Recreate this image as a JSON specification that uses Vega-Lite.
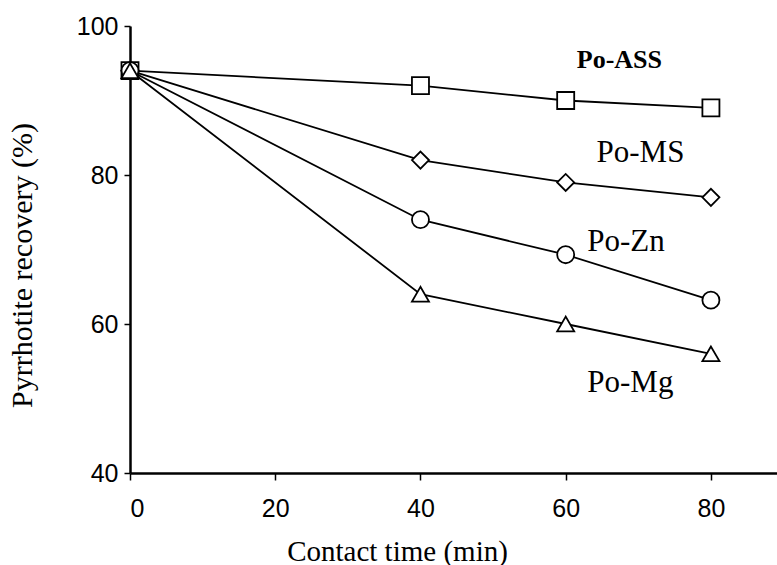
{
  "$schema": "https://vega.github.io/schema/vega-lite/v6.json",
  "width": 647,
  "height": 447,
  "autosize": "none",
  "padding": {"left": 130, "top": 26, "right": 0, "bottom": 92},
  "background": "white",
  "config": {"view": {"stroke": null}},
  "datasets": {
    "pts": [
      {"series": "Po-ASS", "time": 0, "recovery": 94},
      {"series": "Po-ASS", "time": 40, "recovery": 92},
      {"series": "Po-ASS", "time": 60, "recovery": 90},
      {"series": "Po-ASS", "time": 80, "recovery": 89},
      {"series": "Po-MS", "time": 0, "recovery": 94},
      {"series": "Po-MS", "time": 40, "recovery": 82},
      {"series": "Po-MS", "time": 60, "recovery": 79},
      {"series": "Po-MS", "time": 80, "recovery": 77},
      {"series": "Po-Zn", "time": 0, "recovery": 94},
      {"series": "Po-Zn", "time": 40, "recovery": 74},
      {"series": "Po-Zn", "time": 60, "recovery": 69.3},
      {"series": "Po-Zn", "time": 80, "recovery": 63.2},
      {"series": "Po-Mg", "time": 0, "recovery": 94},
      {"series": "Po-Mg", "time": 40, "recovery": 64},
      {"series": "Po-Mg", "time": 60, "recovery": 60},
      {"series": "Po-Mg", "time": 80, "recovery": 56}
    ],
    "labels": [
      {"label": "Po-ASS", "time": 67.4, "recovery": 95.4, "weight": "bold"},
      {"label": "Po-MS", "time": 70.3, "recovery": 82.9, "weight": "normal"},
      {"label": "Po-Zn", "time": 68.3, "recovery": 71.0, "weight": "normal"},
      {"label": "Po-Mg", "time": 68.9, "recovery": 52.1, "weight": "normal"}
    ]
  },
  "layer": [
    {
      "mark": {"type": "rule", "color": "black", "strokeWidth": 2},
      "encoding": {"y": {"datum": 100, "type": "quantitative", "scale": {"domain": [40, 100]}}}
    },
    {
      "data": {"name": "pts"},
      "mark": {"type": "line", "color": "black", "strokeWidth": 1.8},
      "encoding": {
        "x": {
          "field": "time", "type": "quantitative",
          "scale": {"domain": [0, 89.1], "nice": false, "zero": false},
          "axis": {
            "values": [0, 20, 40, 60, 80], "grid": false,
            "title": "Contact time (min)",
            "titleFont": "Liberation Serif", "titleFontSize": 29, "titleFontWeight": "normal", "titleColor": "black",
            "titleX": 267, "titleY": 78, "titleBaseline": "middle", "titleAnchor": null,
            "labelFont": "Liberation Sans", "labelFontSize": 25, "labelColor": "black",
            "tickSize": 7, "tickColor": "black", "tickWidth": 1.5, "labelPadding": 16,
            "domainColor": "black", "domainWidth": 2.5
          }
        },
        "y": {
          "field": "recovery", "type": "quantitative",
          "scale": {"domain": [40, 100], "nice": false, "zero": false},
          "axis": {
            "values": [40, 60, 80, 100], "grid": false,
            "title": "Pyrrhotite recovery (%)",
            "titleFont": "Liberation Serif", "titleFontSize": 30, "titleFontWeight": "normal", "titleColor": "black",
            "titleX": -108, "titleY": 239, "titleAngle": -90, "titleAlign": "center", "titleBaseline": "middle",
            "labelFont": "Liberation Sans", "labelFontSize": 25, "labelColor": "black",
            "tickSize": 6, "tickColor": "black", "tickWidth": 1.5, "labelPadding": 6,
            "domainColor": "black", "domainWidth": 2.5
          }
        },
        "detail": {"field": "series"}
      }
    },
    {
      "data": {"name": "pts"},
      "mark": {"type": "point", "filled": true, "fill": "white", "stroke": "black", "strokeWidth": 1.8, "opacity": 1, "size": 290},
      "encoding": {
        "x": {"field": "time", "type": "quantitative"},
        "y": {"field": "recovery", "type": "quantitative"},
        "shape": {
          "field": "series", "type": "nominal", "legend": null,
          "scale": {"domain": ["Po-ASS", "Po-MS", "Po-Zn", "Po-Mg"], "range": ["square", "diamond", "circle", "triangle-up"]}
        }
      }
    },
    {
      "data": {"name": "labels"},
      "transform": [{"filter": "datum.weight === 'bold'"}],
      "mark": {"type": "text", "font": "Liberation Serif", "fontSize": 26, "fontWeight": "bold", "color": "black", "align": "center", "baseline": "middle"},
      "encoding": {
        "x": {"field": "time", "type": "quantitative"},
        "y": {"field": "recovery", "type": "quantitative"},
        "text": {"field": "label"}
      }
    },
    {
      "data": {"name": "labels"},
      "transform": [{"filter": "datum.weight !== 'bold'"}],
      "mark": {"type": "text", "font": "Liberation Serif", "fontSize": 31, "color": "black", "align": "center", "baseline": "middle"},
      "encoding": {
        "x": {"field": "time", "type": "quantitative"},
        "y": {"field": "recovery", "type": "quantitative"},
        "text": {"field": "label"}
      }
    }
  ]
}
